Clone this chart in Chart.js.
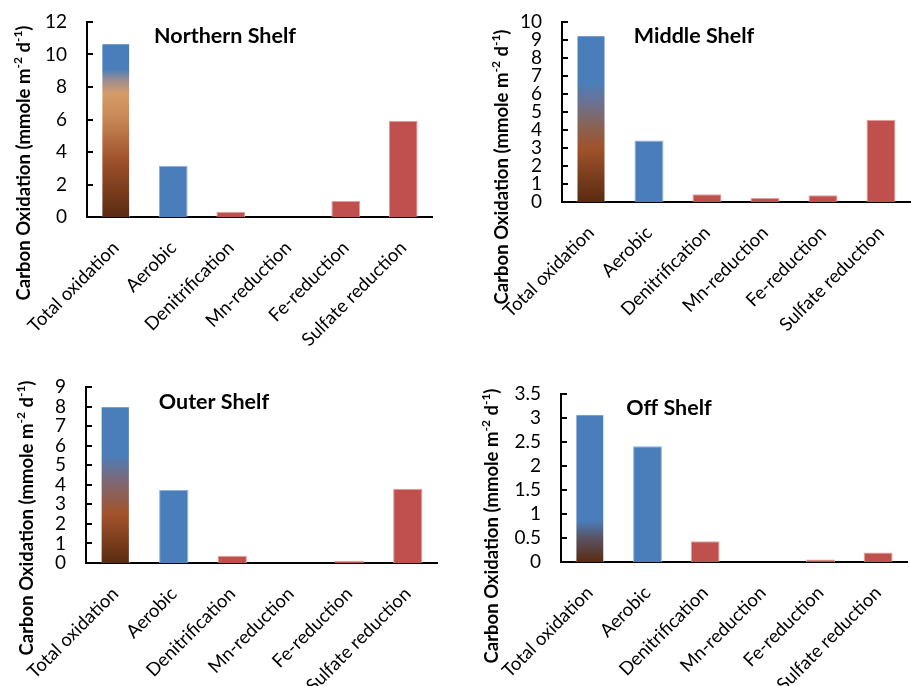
<!DOCTYPE html>
<html lang="en">
<head>
<meta charset="UTF-8">
<title>Carbon oxidation pathways</title>
<script src="https://cdn.jsdelivr.net/npm/chart.js"></script>
<style>
  html, body { margin: 0; padding: 0; background: #fff; }
  .panel { position: absolute; }
</style>
</head>
<body>
<div class="panel" style="left:0;top:0;width:455px;height:360px"><canvas id="northern"></canvas></div>
<div class="panel" style="left:455px;top:0;width:456px;height:360px"><canvas id="middle"></canvas></div>
<div class="panel" style="left:0;top:365px;width:455px;height:321px"><canvas id="outer"></canvas></div>
<div class="panel" style="left:455px;top:365px;width:456px;height:321px"><canvas id="off"></canvas></div>

<script>
// data
const categories = ["Total oxidation", "Aerobic", "Denitrification", "Mn-reduction", "Fe-reduction", "Sulfate reduction"];
const northernValues = [10.7, 3.15, 0.33, 0, 0.98, 5.92];
const middleValues = [9.26, 3.42, 0.43, 0.22, 0.37, 4.57];
const outerValues = [8.02, 3.73, 0.37, 0, 0.12, 3.8];
const offValues = [3.08, 2.41, 0.43, 0, 0.05, 0.2];
const northernTicks = [0, 2, 4, 6, 8, 10, 12];
const middleTicks = [0, 1, 2, 3, 4, 5, 6, 7, 8, 9, 10];
const outerTicks = [0, 1, 2, 3, 4, 5, 6, 7, 8, 9];
const offTicks = [0, 0.5, 1, 1.5, 2, 2.5, 3, 3.5];

const BLUE = "#4a7ebb";
const RED = "#c0504d";
const FONT = "Lato";

// panel title, y axis title (with superscripts) and inward tick marks
const panelText = {
  id: "panelText",
  afterDraw(chart, args, o) {
    const c = chart.ctx;
    const y = chart.scales.y;
    c.save();
    c.strokeStyle = "#000";
    c.lineWidth = 2;
    y.ticks.forEach(t => {
      const py = Math.round(y.getPixelForValue(t.value));
      c.beginPath();
      c.moveTo(chart.chartArea.left, py);
      c.lineTo(chart.chartArea.left + 6, py);
      c.stroke();
    });

    c.fillStyle = "#000";
    c.textBaseline = "middle";
    c.textAlign = "center";
    c.font = "bold 21.5px " + FONT;
    c.fillText(o.title, o.titleX, o.titleY);

    const parts = [["Carbon Oxidation (mmole m", 0], ["-2", 1], [" d", 0], ["-1", 1], [")", 0]];
    const big = "bold 18.5px " + FONT, small = "bold 12px " + FONT;
    let total = 0;
    parts.forEach(p => { c.font = p[1] ? small : big; total += c.measureText(p[0]).width; });
    c.translate(o.axisX, o.axisY);
    c.rotate(-Math.PI / 2);
    c.textAlign = "left";
    let x = -total / 2;
    parts.forEach(p => {
      c.font = p[1] ? small : big;
      c.fillText(p[0], x, p[1] ? -6 : 0);
      x += c.measureText(p[0]).width;
    });
    c.restore();
  }
};

function makeChart(id, values, ticks, title, L) {
  const stops = L.stops;
  new Chart(document.getElementById(id), {
    type: "bar",
    data: {
      labels: categories,
      datasets: [{
        data: values,
        backgroundColor(ctx) {
          if (ctx.dataIndex === 1) return BLUE;
          if (ctx.dataIndex > 1) return RED;
          const chart = ctx.chart, y = chart.scales.y;
          if (!chart.chartArea || !y) return BLUE;
          const g = chart.ctx.createLinearGradient(0, y.getPixelForValue(0), 0, y.getPixelForValue(values[0]));
          stops.forEach(s => g.addColorStop(s[0], s[1]));
          return g;
        },
        borderColor: ["rgba(255,255,255,0.5)", "#8fb0dc", "#e0a09e", "#e0a09e", "#e0a09e", "#e0a09e"],
        borderWidth: 1,
        barPercentage: 0.5,
        categoryPercentage: 1
      }]
    },
    options: {
      responsive: true,
      maintainAspectRatio: false,
      animation: false,
      layout: { padding: { top: L.top, right: L.right, left: 0, bottom: 0 } },
      plugins: {
        legend: { display: false },
        tooltip: { enabled: false },
        panelText: { title: title, titleX: L.titleX, titleY: L.titleY, axisX: L.axisX, axisY: L.axisY }
      },
      scales: {
        x: {
          grid: { display: false },
          border: { color: "#000", width: 2 },
          ticks: { color: "#000", font: { family: FONT, size: 18.5 }, minRotation: 45, maxRotation: 45, autoSkip: false, padding: 12 },
          afterFit(s) { s.height = L.xh; }
        },
        y: {
          min: ticks[0],
          max: ticks[ticks.length - 1],
          afterBuildTicks(s) { s.ticks = ticks.map(v => ({ value: v })); },
          ticks: { autoSkip: false, callback: v => String(v), color: "#000", font: { family: FONT, size: 19 }, padding: 2 },
          // grid hidden; tickLength only sets the gap before the labels
          grid: { display: false, drawTicks: true, tickLength: 18 },
          border: { color: "#000", width: 2 },
          afterFit(s) { s.width = L.yw; }
        }
      }
    },
    plugins: [panelText]
  });
}

makeChart("northern", northernValues, northernTicks, "Northern Shelf", {
  top: 22, right: 23, yw: 87, xh: 143, titleX: 225, titleY: 36, axisX: 24, axisY: 163,
  stops: [[0, "#5a2b12"], [0.33, "#a0522b"], [0.58, "#c98a58"], [0.71, "#d59c68"], [0.79, "#9a8c92"], [0.85, BLUE], [1, BLUE]]
});
makeChart("middle", middleValues, middleTicks, "Middle Shelf", {
  top: 22, right: 1, yw: 107, xh: 158, titleX: 239, titleY: 36, axisX: 47, axisY: 167,
  stops: [[0, "#5a2b12"], [0.32, "#a0522b"], [0.45, "#8a6252"], [0.6, "#6a7294"], [0.72, BLUE], [1, BLUE]]
});
makeChart("outer", outerValues, outerTicks, "Outer Shelf", {
  top: 22, right: 18, yw: 86, xh: 123, titleX: 214, titleY: 37, axisX: 27, axisY: 153,
  stops: [[0, "#5a2b12"], [0.31, "#a3532a"], [0.54, "#7a6a7c"], [0.69, BLUE], [1, BLUE]]
});
makeChart("off", offValues, offTicks, "Off Shelf", {
  top: 29, right: 4, yw: 106, xh: 124, titleX: 214, titleY: 43, axisX: 37, axisY: 161,
  stops: [[0, "#5a2b12"], [0.16, "#5a5262"], [0.28, BLUE], [1, BLUE]]
});
</script>
</body>
</html>
